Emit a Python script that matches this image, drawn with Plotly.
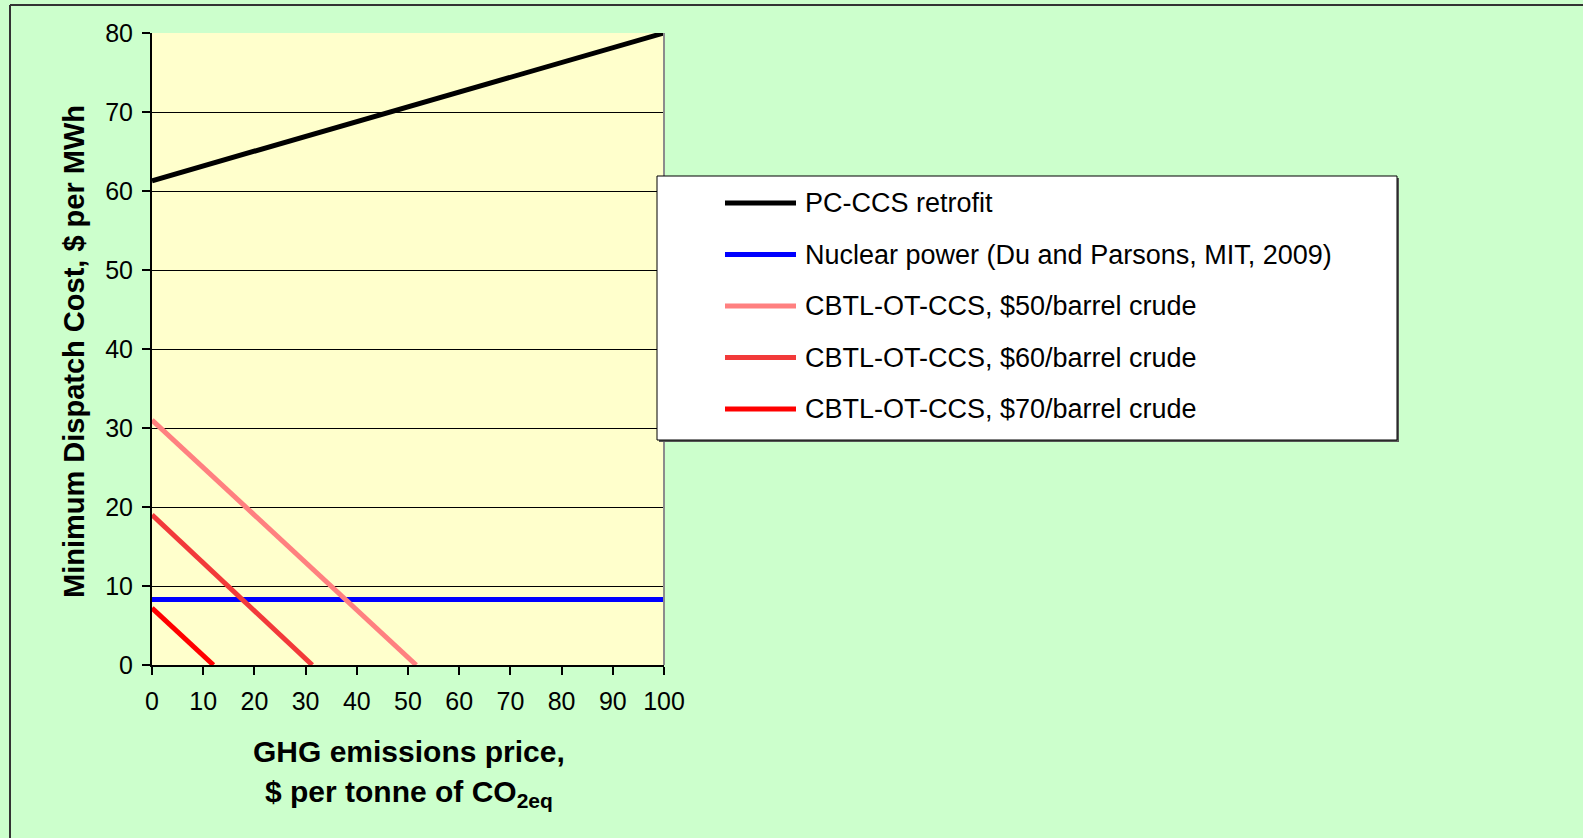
import plotly.graph_objects as go

# data
ghg_price = [0, 100]
pc_ccs = [61.3, 80]
nuclear = [8.3, 8.3]
cbtl_50_x = [0, 51.6]
cbtl_50_y = [31, 0]
cbtl_60_x = [0, 31.3]
cbtl_60_y = [19, 0]
cbtl_70_x = [0, 12]
cbtl_70_y = [7.2, 0]

series_names = [
    "PC-CCS retrofit",
    "Nuclear power (Du and Parsons, MIT, 2009)",
    "CBTL-OT-CCS, $50/barrel crude",
    "CBTL-OT-CCS, $60/barrel crude",
    "CBTL-OT-CCS, $70/barrel crude",
]
series_colors = ["#000000", "#0000FF", "#FF8080", "#F23A3A", "#FF0000"]

FONT = "Arial, Liberation Sans, sans-serif"
W, H = 1583, 838
L, R, T, B = 152, 664, 33, 665  # plot area in pixels


def px(x):
    return (x - L) / (R - L)


def py(y):
    return (B - y) / (B - T)


fig = go.Figure()
xs = [ghg_price, ghg_price, cbtl_50_x, cbtl_60_x, cbtl_70_x]
ys = [pc_ccs, nuclear, cbtl_50_y, cbtl_60_y, cbtl_70_y]
for x, y, name, color in zip(xs, ys, series_names, series_colors):
    fig.add_trace(go.Scatter(x=x, y=y, name=name, mode="lines",
                             line=dict(color=color, width=5), showlegend=False))

shapes = []
annotations = []

# outer chart frame (left and top edges visible)
shapes.append(dict(type="line", xref="paper", yref="paper",
                   x0=px(10), x1=px(W + 5), y0=py(5), y1=py(5),
                   line=dict(color="#333333", width=2)))
shapes.append(dict(type="line", xref="paper", yref="paper",
                   x0=px(10), x1=px(10), y0=py(5), y1=py(H + 5),
                   line=dict(color="#333333", width=2)))

# right edge of the plot area
shapes.append(dict(type="line", xref="paper", yref="paper",
                   x0=1, x1=1, y0=0, y1=1,
                   line=dict(color="#8c8c8c", width=2)))

# legend box with shadow
shapes.append(dict(type="rect", xref="paper", yref="paper",
                   x0=px(659), x1=px(1399), y0=py(178), y1=py(442),
                   fillcolor="#555555", line=dict(width=0)))
shapes.append(dict(type="rect", xref="paper", yref="paper",
                   x0=px(657), x1=px(1397), y0=py(176), y1=py(440),
                   fillcolor="white", line=dict(color="black", width=1)))

legend_y = [203, 254.5, 306, 357.5, 409]
for ly, name, color in zip(legend_y, series_names, series_colors):
    shapes.append(dict(type="line", xref="paper", yref="paper",
                       x0=px(725), x1=px(796), y0=py(ly), y1=py(ly),
                       line=dict(color=color, width=5)))
    annotations.append(dict(text=name, xref="paper", yref="paper",
                            x=px(803), y=py(ly), xanchor="left", yanchor="middle",
                            showarrow=False, font=dict(family=FONT, size=27, color="black")))

# axis titles
annotations.append(dict(text="<b>Minimum Dispatch Cost, $ per MWh</b>", xref="paper", yref="paper",
                        x=px(74), y=py(352), textangle=-90, showarrow=False,
                        xanchor="center", yanchor="middle",
                        font=dict(family=FONT, size=29, color="black")))
annotations.append(dict(text="<b>GHG emissions price,</b>", xref="paper", yref="paper",
                        x=px(409), y=py(751), showarrow=False,
                        xanchor="center", yanchor="middle",
                        font=dict(family=FONT, size=30, color="black")))
annotations.append(dict(text="<b>$ per tonne of CO<sub>2eq</sub></b>", xref="paper", yref="paper",
                        x=px(409), y=py(793), showarrow=False,
                        xanchor="center", yanchor="middle",
                        font=dict(family=FONT, size=30, color="black")))

fig.update_layout(
    width=W, height=H,
    margin=dict(l=L, r=W - R, t=T, b=H - B, pad=0),
    paper_bgcolor="#CCFFCC",
    plot_bgcolor="#FFFFCC",
    font=dict(family=FONT, size=25, color="black"),
    showlegend=False,
    shapes=shapes,
    annotations=annotations,
    xaxis=dict(
        range=[0, 100], tick0=0, dtick=10,
        showgrid=False, zeroline=False,
        showline=True, linecolor="black", linewidth=2,
        ticks="outside", ticklen=8, tickcolor="black", tickwidth=1.5,
        ticklabelstandoff=5,
        tickfont=dict(family=FONT, size=25, color="black"),
    ),
    yaxis=dict(
        range=[0, 80], tick0=0, dtick=10,
        showgrid=True, gridcolor="black", gridwidth=1,
        zeroline=False,
        showline=True, linecolor="black", linewidth=2,
        ticks="outside", ticklen=8, tickcolor="black", tickwidth=1.5,
        ticklabelstandoff=4,
        tickfont=dict(family=FONT, size=25, color="black"),
    ),
)

# drop the browser's default page margin so the figure sits at (0, 0)
fig.write_html("out.html", config={"displayModeBar": False},
               post_script="document.body.style.margin='0';")
